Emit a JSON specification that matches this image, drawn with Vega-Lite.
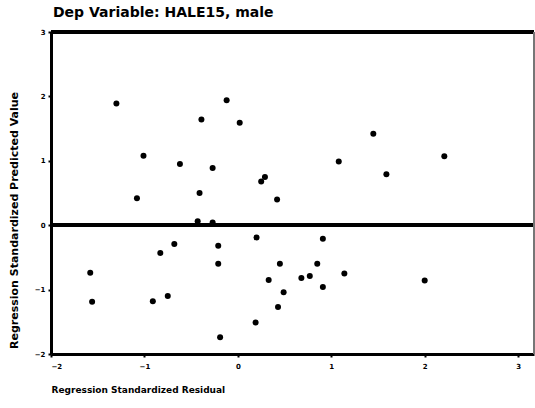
{
  "$schema": "https://vega.github.io/schema/vega-lite/v6.json",
  "width": 483,
  "height": 322,
  "autosize": {"type": "none"},
  "padding": {"left": 51, "top": 32, "right": 1, "bottom": 54},
  "background": "white",
  "config": {
    "view": {"stroke": null},
    "font": "DejaVu Sans"
  },
  "title": {
    "text": "Dep Variable: HALE15, male",
    "anchor": "start",
    "frame": "group",
    "fontSize": 14,
    "fontWeight": "bold",
    "font": "DejaVu Sans",
    "color": "black",
    "offset": 8,
    "dx": 2
  },
  "data": {
    "values": [
      {"resid": -1.30, "pred": 1.89}, {"resid": -0.12, "pred": 1.94}, {"resid": -0.39, "pred": 1.64},
      {"resid": 0.02, "pred": 1.59}, {"resid": -1.01, "pred": 1.08}, {"resid": -0.62, "pred": 0.95},
      {"resid": -0.27, "pred": 0.89}, {"resid": 0.29, "pred": 0.75}, {"resid": 0.25, "pred": 0.68},
      {"resid": -1.08, "pred": 0.42}, {"resid": -0.41, "pred": 0.50}, {"resid": 0.42, "pred": 0.40},
      {"resid": -0.43, "pred": 0.06}, {"resid": -0.27, "pred": 0.04}, {"resid": -0.68, "pred": -0.29},
      {"resid": -0.83, "pred": -0.43}, {"resid": -0.21, "pred": -0.32}, {"resid": -0.21, "pred": -0.60},
      {"resid": 0.20, "pred": -0.19}, {"resid": 0.45, "pred": -0.60}, {"resid": -1.58, "pred": -0.74},
      {"resid": 0.33, "pred": -0.85}, {"resid": 0.49, "pred": -1.04}, {"resid": -1.56, "pred": -1.19},
      {"resid": -0.91, "pred": -1.18}, {"resid": -0.75, "pred": -1.10}, {"resid": 0.43, "pred": -1.27},
      {"resid": 0.19, "pred": -1.51}, {"resid": -0.19, "pred": -1.74}, {"resid": 1.45, "pred": 1.42},
      {"resid": 1.08, "pred": 0.99}, {"resid": 1.59, "pred": 0.79}, {"resid": 2.21, "pred": 1.07},
      {"resid": 0.91, "pred": -0.21}, {"resid": 0.85, "pred": -0.60}, {"resid": 0.68, "pred": -0.82},
      {"resid": 0.77, "pred": -0.79}, {"resid": 1.14, "pred": -0.75}, {"resid": 0.91, "pred": -0.96},
      {"resid": 2.00, "pred": -0.86}
    ]
  },
  "layer": [
    {
      "mark": {"type": "rule", "color": "black", "strokeWidth": 3},
      "encoding": {"y": {"datum": 0, "type": "quantitative"}}
    },
    {
      "mark": {"type": "rule", "color": "black", "strokeWidth": 3},
      "encoding": {"y": {"datum": 3, "type": "quantitative"}}
    },
    {
      "mark": {"type": "rule", "color": "#777777", "strokeWidth": 1},
      "encoding": {"x": {"datum": 3.17, "type": "quantitative"}}
    },
    {
      "mark": {"type": "circle", "color": "black", "opacity": 1, "size": 36},
      "encoding": {
        "x": {
          "field": "resid",
          "type": "quantitative",
          "scale": {"domain": [-2, 3.17], "nice": false, "zero": false},
          "axis": {
            "title": "Regression Standardized Residual",
            "values": [-2, -1, 0, 1, 2, 3],
            "format": "d",
            "grid": false,
            "domainColor": "black",
            "domainWidth": 3,
            "tickColor": "black",
            "tickSize": 3,
            "tickWidth": 2,
            "labelFont": "DejaVu Sans",
            "labelFontSize": 7,
            "labelFontWeight": "bold",
            "labelColor": "black",
            "labelPadding": 5,
            "titleFont": "DejaVu Sans",
            "titleFontSize": 9,
            "titleFontWeight": "bold",
            "titleColor": "black",
            "titleAnchor": "start",
            "titleAlign": "left",
            "titlePadding": 16
          }
        },
        "y": {
          "field": "pred",
          "type": "quantitative",
          "scale": {"domain": [-2, 3], "nice": false, "zero": false},
          "axis": {
            "title": "Regression Standardized Predicted Value",
            "values": [-2, -1, 0, 1, 2, 3],
            "format": "d",
            "grid": false,
            "domainColor": "black",
            "domainWidth": 3,
            "tickColor": "black",
            "tickSize": 3,
            "tickWidth": 2,
            "labelFont": "DejaVu Sans",
            "labelFontSize": 7,
            "labelFontWeight": "bold",
            "labelColor": "black",
            "labelPadding": 3,
            "titleFont": "DejaVu Sans",
            "titleFontSize": 11,
            "titleFontWeight": "bold",
            "titleColor": "black",
            "titleX": -37,
            "titleY": 188,
            "titleAngle": 270,
            "titleAlign": "center",
            "titleBaseline": "middle"
          }
        }
      }
    }
  ]
}
